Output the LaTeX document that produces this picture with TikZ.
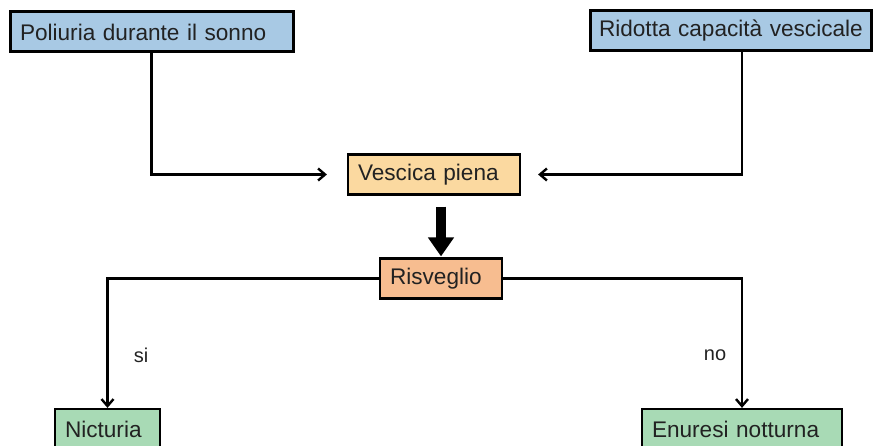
\documentclass[tikz,border=0pt]{standalone}
\usepackage{fontspec}
\setmainfont{Liberation Sans}
\usetikzlibrary{arrows.meta}
\definecolor{causeblue}{HTML}{A8C9E4}
\definecolor{fullorange}{HTML}{FBD9A0}
\definecolor{wakesalmon}{HTML}{F7BD90}
\definecolor{outgreen}{HTML}{A8DAB5}
\definecolor{inkgrey}{HTML}{222222}
\begin{document}
\begin{tikzpicture}[x=1pt,y=-1pt,
  box/.style={draw=black, line width=2.2pt, inner xsep=10pt, inner ysep=0pt,
    minimum height=40pt, align=left, text=inkgrey,
    font=\fontsize{22.6}{24}\selectfont},
  causebox/.style={box, fill=causeblue, line width=3pt},
  conn/.style={draw=black, line width=2.2pt, -{Straight Barb[length=7pt,width=12pt,line width=2.4pt]}},
  lbl/.style={text=inkgrey, font=\fontsize{20}{22}\selectfont}]
\useasboundingbox (0,0) rectangle (881,446);

% causes
\node[causebox, text width=263pt] (poli) at (151.5,32) {\mbox{Poliuria durante il sonno}};
\node[causebox, text width=263pt, inner xsep=9pt] (rid) at (730.5,30.5) {\mbox{Ridotta capacità vescicale}};

% bladder and waking
\node[box, fill=fullorange, text width=152pt] (ves) at (434,174.5) {Vescica piena};
\node[box, fill=wakesalmon, text width=102pt] (ris) at (441,278.5) {Risveglio};

% outcomes
\node[box, fill=outgreen, text width=85pt] (nic) at (107.5,429) {Nicturia};
\node[box, fill=outgreen, text width=180pt] (enu) at (742,429) {\mbox{Enuresi notturna}};

% converging paths
\draw[conn, shorten >=20pt] (poli.south) |- (ves.west);
\draw[conn, shorten >=17pt] (rid.south) ++(11.5,0) |- (ves.east);

% bold arrow down
\draw[line width=10pt, shorten <=11pt, shorten >=1pt,
  -{Triangle[length=19pt,width=25pt]}] (ves.south -| ris.north) -- (ris.north);

% branches
\draw[conn] (ris.west) -| (nic.north);
\draw[conn] (ris.east) -| (enu.north);
\node[lbl] (si) at (141,355) {si};
\node[lbl] (no) at (715,355) {no};
\end{tikzpicture}
\end{document}
